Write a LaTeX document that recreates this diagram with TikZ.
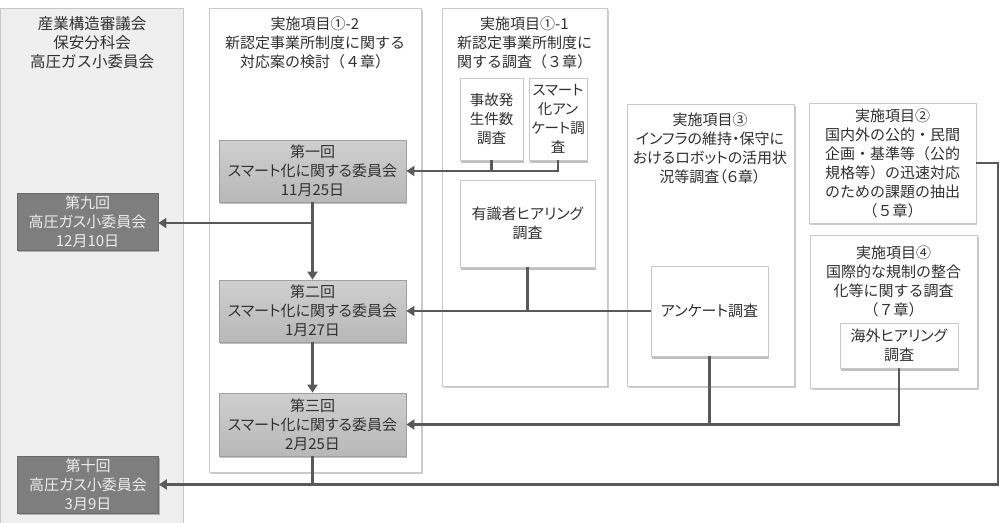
\documentclass[tikz,border=0pt]{standalone}
\usepackage{fontspec}
\setmainfont{Noto Sans CJK JP}
\newfontfamily\jpp[RawFeature=+palt]{Noto Sans CJK JP}
\usetikzlibrary{shadows,arrows.meta}
\definecolor{ink}{HTML}{303030}
\definecolor{pborder}{HTML}{C8C8C8}
\definecolor{leftfill}{HTML}{EFEFEF}
\definecolor{cgtop}{HTML}{CFCFCF}
\definecolor{cgbot}{HTML}{B8B8B8}
\definecolor{cborder}{HTML}{A0A0A0}
\definecolor{dgray}{HTML}{7E7E7E}
\definecolor{dborder}{HTML}{6A6A6A}
\definecolor{dtext}{HTML}{EDEDED}
\definecolor{lc}{HTML}{595959}
\tikzset{
  every node/.style={font=\fontsize{14.5}{19}\selectfont, text=ink},
  panel/.style={draw=pborder, fill=white, line width=0.8pt, anchor=north west, inner sep=0pt,
    drop shadow={shadow xshift=1.2pt, shadow yshift=-2pt, fill=black, opacity=0.2}},
  subbox/.style={draw=pborder, fill=white, line width=0.8pt, align=center, inner sep=0pt,
    drop shadow={shadow xshift=1.2pt, shadow yshift=-2.5pt, fill=black, opacity=0.25}},
  ttl/.style={align=center, inner sep=0pt, font=\fontsize{15}{19}\selectfont},
  cbox/.style={draw=cborder, top color=cgtop, bottom color=cgbot, line width=0.8pt, align=center,
    minimum width=187pt, inner sep=0pt, font=\jpp\fontsize{15}{19}\selectfont,
    drop shadow={shadow xshift=1.2pt, shadow yshift=-2pt, fill=black, opacity=0.25}},
  dbox/.style={draw=dborder, fill=dgray, text=dtext, line width=0.8pt, align=center,
    minimum width=141pt, minimum height=57pt, inner sep=0pt, font=\jpp\fontsize{15}{19}\selectfont,
    drop shadow={shadow xshift=1.2pt, shadow yshift=-2pt, fill=black, opacity=0.25}},
  conn/.style={draw=lc, line width=2.5pt},
  arr/.style={conn, -{Triangle[length=8pt,width=10pt]}},
}
\begin{document}
\begin{tikzpicture}[x=1pt,y=-1pt]
\useasboundingbox (0,0) rectangle (1003,522);
% left panel
\node[draw=pborder, fill=leftfill, line width=0.8pt, anchor=north west, inner sep=0pt,
  minimum width=183pt, minimum height=530pt] (lp) at (0,8) {};
\node[ttl, font=\fontsize{15.5}{19}\selectfont] (lpt) at (92,43) {産業構造審議会\\保安分科会\\高圧ガス小委員会};
\node[dbox] (k9) at (87.5,221.5) {第九回\\高圧ガス小委員会\\12月10日};
\node[dbox] (k10) at (88,484.5) {第十回\\高圧ガス小委員会\\3月9日};
% panel 1-2
\node[panel, minimum width=212pt, minimum height=464pt] (p12) at (209,8) {};
\node[ttl] (p12t) at (315,43) {実施項目①-2\\新認定事業所制度に関する\\対応案の検討（４章）};
\node[cbox, minimum height=62pt] (b1) at (312.5,171) {第一回\\スマート化に関する委員会\\11月25日};
\node[cbox, minimum height=62pt] (b2) at (312.5,311) {第二回\\スマート化に関する委員会\\1月27日};
\node[cbox, minimum height=63pt] (b3) at (312.5,424.5) {第三回\\スマート化に関する委員会\\2月25日};
% panel 1-1
\node[panel, minimum width=165pt, minimum height=378pt] (p11) at (442,8) {};
\node[ttl] (p11t) at (524.5,43) {実施項目①-1\\新認定事業所制度に\\関する調査（３章）};
\node[subbox, minimum width=63pt, minimum height=82pt] (jiko) at (491.5,119) {事故発\\生件数\\調査};
\node[subbox, minimum width=58pt, minimum height=82pt, font=\jpp\fontsize{14.5}{19}\selectfont] (smart) at (558,119) {スマート\\化アン\\ケート調\\査};
\node[subbox, minimum width=135pt, minimum height=87pt, font=\jpp\fontsize{15}{19}\selectfont] (yus) at (527.5,223.5) {有識者ヒアリング\\調査};
% panel 3
\node[panel, minimum width=167pt, minimum height=282pt] (p3) at (627,104) {};
\node[ttl, font=\jpp\fontsize{15}{19}\selectfont] (p3t) at (710,148) {実施項目③\\インフラの維持・保守に\\おけるロボットの活用状\\況等調査（６章）};
\node[subbox, minimum width=117pt, minimum height=90pt, font=\jpp\fontsize{15}{19}\selectfont] (enq) at (709.5,311) {アンケート調査};
% panel 2
\node[panel, minimum width=167pt, minimum height=120pt, anchor=center, align=center,
  font=\fontsize{15}{19}\selectfont] (p2) at (892.5,163)
  {実施項目②\\国内外の公的・民間\\企画・基準等（公的\\規格等）の迅速対応\\のための課題の抽出\\（５章）};
% panel 4
\node[panel, minimum width=167pt, minimum height=153pt] (p4) at (810,235) {};
\node[ttl] (p4t) at (893.5,281) {実施項目④\\国際的な規制の整合\\化等に関する調査\\（７章）};
\node[subbox, minimum width=118pt, minimum height=45pt, font=\jpp\fontsize{15}{19}\selectfont] (kaigai) at (899,345.5) {海外ヒアリング\\調査};
% connectors
\coordinate (rc) at (998,484.5);
\draw[arr] (b1.south) -- (b2.north);
\draw[arr] (b2.south) -- (b3.north);
\draw[arr] (b1.south |- 0,223) -- (k9.east |- 0,223);
\draw[arr] (b3.south) |- (k10.east);
\draw[conn] (p2.east) -| (rc) -- (b3.south |- rc);
\draw[conn] (jiko.south) -- (jiko.south |- b1.east);
\draw[arr] (smart.south) |- (b1.east);
\draw[conn] (yus.south) -- (yus.south |- b2.east);
\draw[arr] (enq.west) -- (b2.east);
\draw[conn] (enq.south) -- (enq.south |- b3.east);
\draw[arr] (kaigai.south) |- (b3.east);
\end{tikzpicture}
\end{document}
